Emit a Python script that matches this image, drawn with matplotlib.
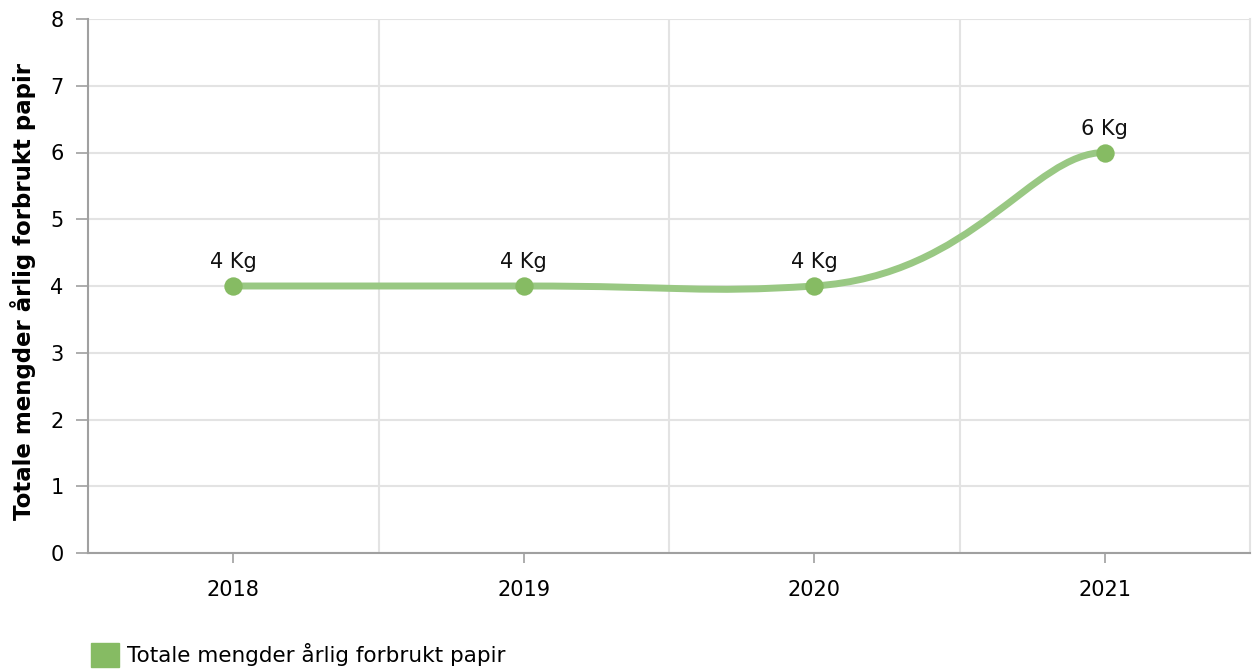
import matplotlib
matplotlib.use("Agg")
import matplotlib.pyplot as plt
from matplotlib.path import Path
from matplotlib.patches import PathPatch, Patch

# data
years = ["2018", "2019", "2020", "2021"]
values = [4, 4, 4, 6]
point_labels = ["4 Kg", "4 Kg", "4 Kg", "6 Kg"]
series_name = "Totale mengder årlig forbrukt papir"
y_ticks = [0, 1, 2, 3, 4, 5, 6, 7, 8]

line_col = "#99c883"
dot_col = "#86bb63"
grid_col = "#e3e3e3"
axis_col = "#a0a0a0"

plt.rcParams["font.family"] = ["DejaVu Sans"]

fig = plt.figure(figsize=(12.54, 6.70), dpi=100)
ax = fig.add_axes([88 / 1254, (670 - 553) / 670, (1250 - 88) / 1254, (553 - 19) / 670])

xs = list(range(len(years)))

# spline roughly like the web chart's smoothing
n = len(xs)
left_c, right_c = [], []
for i in range(n):
    if i == 0 or i == n - 1:
        slope = 0.0
    else:
        slope = 0.28 * (values[i + 1] - values[i - 1]) / (xs[i + 1] - xs[i - 1])
    hl = 0.4 * (xs[i] - xs[i - 1]) if i > 0 else 0.0
    hr = 0.55 * (xs[i + 1] - xs[i]) if i < n - 1 else 0.0
    if i == n - 1:
        hl = 0.25 * (xs[i] - xs[i - 1])
    left_c.append((xs[i] - hl, values[i] - slope * hl))
    right_c.append((xs[i] + hr, values[i] + slope * hr))
verts = [(xs[0], values[0])]
codes = [Path.MOVETO]
for i in range(n - 1):
    verts += [right_c[i], left_c[i + 1], (xs[i + 1], values[i + 1])]
    codes += [Path.CURVE4] * 3
ax.add_patch(PathPatch(Path(verts, codes), facecolor="none", edgecolor=line_col,
                       lw=5, capstyle="round", zorder=3))
ax.scatter(xs, values, s=175, color=dot_col, zorder=4, linewidths=0)

for x, v, lab in zip(xs, values, point_labels):
    ax.annotate(lab, (x, v), xytext=(0, 10), textcoords="offset points",
                ha="center", va="bottom", fontsize=15, color="#111111")

ax.set_xlim(-0.5, 3.5)
ax.set_ylim(0, 8)
ax.set_yticks(y_ticks)
ax.set_xticks(xs)
ax.set_xticklabels(years)
ax.set_xticks([0.5, 1.5, 2.5], minor=True)
ax.grid(True, which="major", axis="y", color=grid_col, lw=1.5)
ax.grid(True, which="minor", axis="x", color=grid_col, lw=1.5)
ax.set_axisbelow(True)
ax.tick_params(axis="x", which="minor", length=0)
ax.tick_params(axis="x", which="major", length=7.2, color=axis_col, width=1.2,
               labelsize=15, pad=12)
ax.tick_params(axis="y", length=8.6, color=axis_col, width=1.2, labelsize=15, pad=9)

ax.spines["top"].set_visible(False)
ax.spines["right"].set_color(grid_col)
ax.spines["right"].set_linewidth(1.5)
ax.spines["left"].set_color(axis_col)
ax.spines["bottom"].set_color(axis_col)
ax.spines["left"].set_linewidth(1.5)
ax.spines["bottom"].set_linewidth(1.5)

ax.set_ylabel(series_name, fontsize=16.5, fontweight="bold")
ax.yaxis.set_label_coords(-0.045, 0.49)

fig.legend(handles=[Patch(color=dot_col, label=series_name)],
           loc="lower left", bbox_to_anchor=(72 / 1254, -0.024), frameon=False,
           fontsize=15.5, handlelength=1.3, handleheight=1.3, handletextpad=0.35)

fig.savefig("out.png", dpi=100)
